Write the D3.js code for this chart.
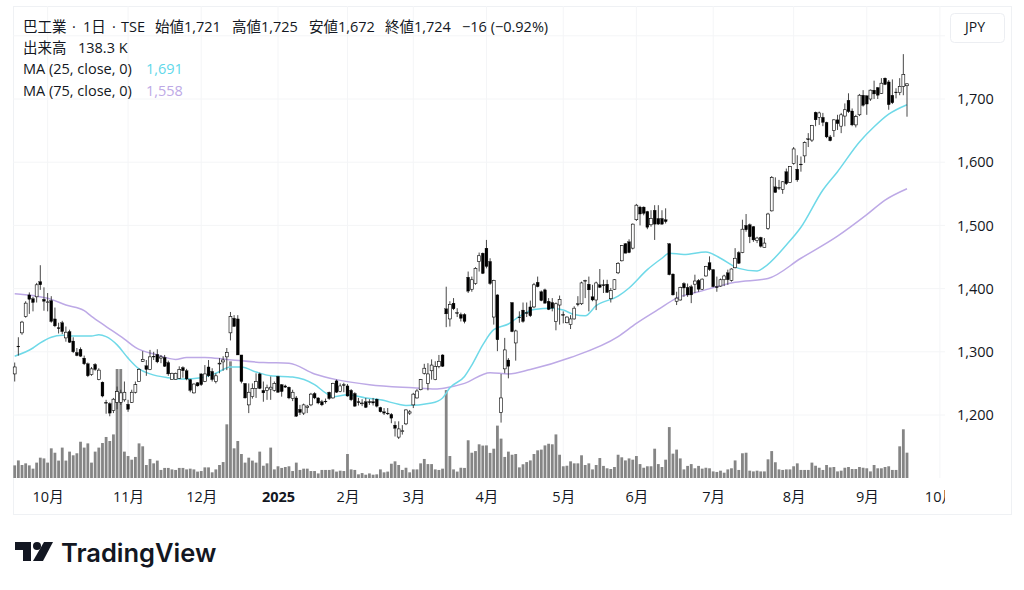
<!DOCTYPE html>
<html>
<head>
<meta charset="utf-8">
<script src="https://cdn.jsdelivr.net/npm/d3@7"></script>
<style>
  html, body { margin: 0; padding: 0; background: #fff; }
  svg { display: block; font-family: "Open Sans", "Noto Sans CJK JP", sans-serif; }
  .axis .domain, .axis line { display: none; }
  .axis text { fill: #131722; font-size: 14.5px; font-family: "Open Sans", "Noto Sans CJK JP", sans-serif; }
</style>
</head>
<body>
<script>
const opens = [
  1265,1309,1330,1356,1390,1384,1387,1411,1383,1378,
  1381,1352,1338,1346,1322,1332,1317,1299,1304,1290,
  1281,1264,1280,1256,1252,1220,1218,1207,1220,1220,
  1224,1217,1220,1236,1253,1285,1278,1272,1293,1296,
  1290,1291,1283,1256,1256,1258,1275,1270,1256,1235,
  1251,1265,1253,1276,1269,1253,1281,1284,1292,1330,
  1353,1352,1295,1250,1216,1229,1242,1265,1239,1239,
  1241,1239,1261,1248,1246,1244,1226,1227,1209,1203,
  1212,1216,1234,1227,1221,1222,1236,1227,1254,1237,
  1248,1246,1239,1234,1221,1218,1221,1221,1221,1225,
  1212,1205,1203,1201,1184,1165,1174,1186,1203,1216,
  1227,1240,1266,1250,1270,1256,1277,1295,1368,1352,
  1377,1362,1359,1359,1418,1399,1408,1443,1456,1464,
  1443,1355,1390,1204,1273,1287,1378,1314,1355,1366,
  1362,1371,1371,1410,1395,1398,1380,1378,1348,1374,
  1359,1346,1343,1352,1376,1376,1412,1407,1387,1382,
  1406,1406,1407,1384,1399,1425,1444,1471,1474,1464,
  1509,1529,1529,1522,1501,1524,1511,1511,1509,1471,
  1423,1380,1382,1408,1402,1403,1407,1413,1399,1420,
  1441,1430,1403,1404,1414,1425,1413,1433,1457,1457,
  1500,1501,1498,1476,1481,1465,1495,1523,1561,1560,
  1557,1585,1568,1598,1589,1597,1610,1637,1635,1679,
  1671,1671,1663,1640,1650,1667,1657,1673,1698,1681,
  1659,1675,1706,1705,1700,1714,1718,1709,1733,1727,
  1706,1711,1710,1720,1721
];
const highs = [
  1283,1323,1349,1380,1394,1387,1409,1437,1402,1393,
  1388,1370,1346,1349,1340,1335,1323,1306,1307,1294,
  1283,1276,1282,1274,1253,1224,1220,1227,1245,1240,
  1253,1224,1240,1253,1274,1301,1287,1303,1300,1304,
  1295,1295,1286,1267,1267,1277,1277,1273,1257,1250,
  1252,1266,1279,1287,1274,1266,1290,1293,1306,1363,
  1358,1358,1295,1250,1250,1250,1266,1267,1253,1248,
  1261,1253,1262,1249,1248,1245,1240,1230,1216,1218,
  1216,1235,1236,1228,1224,1226,1237,1251,1256,1250,
  1251,1249,1241,1236,1227,1225,1227,1225,1227,1226,
  1213,1211,1211,1203,1190,1190,1184,1209,1208,1235,
  1241,1257,1281,1282,1288,1285,1295,1296,1403,1380,
  1385,1369,1362,1361,1427,1419,1434,1457,1457,1477,
  1448,1414,1391,1265,1322,1290,1378,1335,1364,1378,
  1378,1381,1409,1419,1397,1400,1385,1385,1378,1389,
  1364,1356,1358,1372,1388,1411,1414,1419,1406,1411,
  1431,1414,1414,1401,1415,1442,1469,1472,1478,1503,
  1534,1531,1530,1523,1524,1532,1532,1524,1527,1472,
  1424,1395,1403,1410,1408,1406,1422,1415,1416,1436,
  1451,1431,1419,1416,1422,1430,1432,1464,1459,1509,
  1518,1503,1499,1482,1482,1480,1520,1578,1576,1572,
  1570,1590,1594,1624,1611,1609,1633,1646,1659,1680,
  1680,1678,1664,1643,1668,1675,1678,1693,1709,1685,
  1675,1708,1714,1706,1715,1729,1719,1733,1734,1730,
  1731,1717,1733,1771,1725
];
const lows = [
  1253,1294,1327,1354,1360,1364,1378,1398,1365,1364,
  1346,1339,1329,1328,1316,1314,1298,1293,1292,1279,
  1260,1262,1270,1255,1228,1202,1198,1203,1209,1216,
  1221,1205,1219,1234,1253,1284,1262,1271,1287,1282,
  1282,1276,1262,1256,1256,1257,1259,1255,1236,1234,
  1245,1246,1252,1260,1253,1250,1266,1270,1271,1318,
  1340,1295,1250,1226,1203,1226,1227,1241,1221,1224,
  1224,1237,1235,1229,1243,1225,1222,1197,1200,1200,
  1203,1214,1225,1217,1214,1218,1224,1226,1235,1236,
  1236,1229,1222,1213,1215,1214,1211,1216,1215,1212,
  1204,1200,1200,1187,1166,1162,1169,1184,1200,1211,
  1226,1239,1264,1239,1256,1255,1274,1276,1339,1340,
  1366,1355,1348,1345,1393,1395,1406,1427,1423,1432,
  1406,1343,1301,1188,1266,1258,1331,1286,1346,1346,
  1355,1355,1369,1402,1380,1376,1366,1364,1334,1343,
  1345,1345,1336,1351,1372,1374,1385,1364,1380,1366,
  1401,1393,1393,1378,1398,1423,1443,1456,1456,1462,
  1507,1500,1516,1494,1498,1477,1501,1501,1503,1421,
  1389,1374,1381,1387,1387,1377,1393,1395,1398,1419,
  1428,1402,1395,1403,1404,1406,1411,1432,1439,1456,
  1490,1472,1474,1472,1465,1465,1493,1522,1552,1556,
  1550,1564,1567,1596,1569,1585,1599,1624,1632,1657,
  1659,1657,1638,1633,1640,1651,1646,1657,1678,1657,
  1655,1673,1688,1675,1697,1700,1700,1708,1722,1683,
  1692,1701,1706,1706,1672
];
const closes = [
  1276,1308,1347,1377,1383,1378,1406,1406,1380,1379,
  1348,1341,1337,1332,1331,1315,1300,1294,1293,1281,
  1262,1273,1272,1271,1230,1219,1203,1225,1237,1235,
  1236,1209,1236,1248,1272,1288,1272,1292,1292,1284,
  1292,1277,1265,1266,1266,1272,1270,1257,1239,1249,
  1246,1248,1265,1262,1256,1262,1282,1287,1299,1356,
  1340,1295,1253,1227,1236,1242,1253,1242,1235,1243,
  1244,1250,1236,1237,1244,1227,1236,1198,1204,1216,
  1214,1233,1227,1219,1216,1221,1226,1250,1236,1246,
  1247,1230,1224,1214,1220,1219,1212,1220,1219,1214,
  1205,1203,1202,1195,1179,1178,1175,1208,1205,1233,
  1238,1256,1274,1265,1279,1277,1285,1277,1360,1375,
  1368,1361,1353,1348,1396,1414,1432,1452,1424,1435,
  1408,1413,1319,1227,1303,1277,1332,1333,1354,1348,
  1361,1357,1406,1403,1381,1377,1367,1369,1376,1383,
  1358,1355,1352,1369,1375,1409,1413,1398,1382,1409,
  1402,1405,1394,1397,1414,1440,1468,1456,1457,1502,
  1532,1518,1519,1497,1511,1502,1502,1502,1506,1422,
  1390,1385,1402,1401,1390,1390,1412,1399,1415,1435,
  1430,1403,1402,1414,1420,1414,1431,1448,1440,1494,
  1493,1482,1477,1480,1467,1472,1518,1576,1552,1559,
  1569,1566,1593,1621,1572,1596,1631,1636,1658,1667,
  1678,1663,1640,1634,1667,1661,1675,1683,1680,1659,
  1672,1706,1690,1692,1714,1708,1706,1725,1723,1691,
  1694,1710,1720,1739,1724
];
// thousands of shares
const volumes = [
  69,96,71,80,69,51,84,111,107,84,
  162,138,95,166,95,144,124,135,198,166,
  189,84,144,166,191,224,202,238,595,595,
  144,120,100,115,189,173,71,104,80,95,
  44,55,55,47,44,55,55,47,51,47,
  35,38,58,58,31,47,71,87,293,637,
  162,202,131,84,111,95,84,144,67,80,
  166,47,64,55,60,64,38,84,44,51,
  51,38,38,25,44,44,44,47,35,40,
  38,131,47,44,20,27,18,25,18,20,
  47,31,35,78,91,71,44,56,31,47,
  47,80,104,76,76,47,44,51,480,120,
  47,35,56,55,206,138,147,184,177,178,
  137,160,286,215,115,144,127,131,58,75,
  87,96,131,151,155,178,187,184,238,127,
  64,67,91,80,80,124,71,80,47,71,
  109,66,53,49,60,127,113,96,107,100,
  120,76,56,64,64,160,76,60,100,278,
  133,155,107,47,66,76,53,66,51,56,
  53,36,33,40,29,47,53,96,44,135,
  138,40,36,40,36,36,102,147,86,47,
  44,47,47,64,80,44,44,44,84,67,
  56,44,71,58,60,36,40,56,60,49,
  49,60,56,53,36,71,53,53,60,64,
  44,44,173,266,138.3
];

const ma25Bars = [0,5,7,10,13,16,21,23,25,28,31,34,37,42,46,51,55,59,62,66,70,76,82,85,87,91,96,100,105,107,114,117,119,123,125,128,131,135,138,142,147,150,153,156,159,165,168,173,177,179,183,189,193,198,203,205,211,215,221,225,231,235,239,244];
const ma25Values = [1293,1306,1314,1323,1326,1325,1325,1327,1324,1311,1290,1273,1265,1259,1257,1259,1266,1276,1276,1268,1262,1260,1248,1235,1229,1232,1227,1224,1217,1215,1219,1227,1243,1261,1279,1311,1335,1344,1356,1367,1369,1366,1359,1357,1373,1388,1401,1430,1448,1456,1454,1458,1448,1432,1428,1434,1469,1497,1556,1585,1632,1656,1676,1691];
const ma75Bars = [0,5,10,14,19,21,25,30,33,39,44,47,52,58,68,75,82,88,97,109,115,118,123,130,135,141,152,165,170,176,181,187,197,206,215,225,233,238,244];
const ma75Values = [1392,1389,1383,1374,1365,1356,1340,1320,1307,1295,1288,1291,1291,1288,1283,1282,1265,1256,1248,1243,1241,1243,1250,1267,1265,1272,1291,1324,1345,1367,1385,1395,1410,1416,1448,1483,1517,1540,1558];

const priceTicks = [1200,1300,1400,1500,1600,1700];
const priceGrid = [1200,1300,1400,1500,1600,1700,1800];
const monthBars = [9,31,51,72,91,109,129,150,170,191,213,233,253];
const monthLabels = ['10月','11月','12月','2025','2月','3月','4月','5月','6月','7月','8月','9月','10月'];

const headerTexts = ['巴工業','·','1日','·','TSE','始値1,721','高値1,725','安値1,672','終値1,724','−16 (−0.92%)'];
const headerX = [23,72,83,112,121,155,232,309,385,462];

const width = 1024, height = 590;
const plotLeft = 13, plotRight = 945, plotTop = 6, plotBottom = 478, frameRight = 1011, frameBottom = 514;
const bodyWidth = 2.9;
const ink = '#131722', upFill = '#ffffff', wickColor = '#333', volColor = '#858585';
const ma25Color = '#6fd9e8', ma75Color = '#bda9e6';

const svg = d3.select('body')
    .append('svg')
    .attr('width', width)
    .attr('height', height);

const x = d3.scaleLinear().domain([0, 244]).range([14.7, 907]);
const y = d3.scaleLinear().domain([1200, 1700]).range([415, 99]);
const yVol = d3.scaleLinear().domain([0, 546]).range([plotBottom, plotBottom - 100]);

svg.append('defs').append('clipPath').attr('id', 'plot-clip')
    .append('rect')
    .attr('x', plotLeft).attr('y', plotTop)
    .attr('width', plotRight - plotLeft).attr('height', frameBottom - plotTop);

// frame
svg.append('rect')
    .attr('x', plotLeft + 0.5).attr('y', plotTop + 0.5)
    .attr('width', frameRight - plotLeft).attr('height', frameBottom - plotTop)
    .attr('fill', 'none')
    .attr('stroke', '#eff1f4');

// grid
svg.append('g').selectAll('line')
    .data(priceGrid)
    .enter().append('line')
    .attr('x1', plotLeft).attr('x2', plotRight)
    .attr('y1', d => y(d)).attr('y2', d => y(d))
    .attr('stroke', '#f4f5f7');

svg.append('g').selectAll('line')
    .data(monthBars)
    .enter().append('line')
    .attr('x1', d => x(d)).attr('x2', d => x(d))
    .attr('y1', plotTop).attr('y2', plotBottom)
    .attr('stroke', '#f4f5f7');

// volume
svg.append('g').selectAll('rect')
    .data(volumes)
    .enter().append('rect')
    .attr('x', (d, i) => x(i) - 1.4)
    .attr('y', d => yVol(d))
    .attr('width', 2.8)
    .attr('height', d => yVol(0) - yVol(d))
    .attr('fill', volColor);

// moving averages
const maLine = d3.line()
    .x(d => x(d[0]))
    .y(d => y(d[1]))
    .curve(d3.curveMonotoneX);

svg.append('path')
    .datum(d3.zip(ma75Bars, ma75Values))
    .attr('d', maLine)
    .attr('fill', 'none')
    .attr('stroke', ma75Color)
    .attr('stroke-width', 1.5);

svg.append('path')
    .datum(d3.zip(ma25Bars, ma25Values))
    .attr('d', maLine)
    .attr('fill', 'none')
    .attr('stroke', ma25Color)
    .attr('stroke-width', 1.5);

// candles
const candles = svg.append('g').selectAll('g')
    .data(opens.map((o, i) => i))
    .enter().append('g');

candles.append('line')
    .attr('x1', i => x(i)).attr('x2', i => x(i))
    .attr('y1', i => y(highs[i])).attr('y2', i => y(lows[i]))
    .attr('stroke', wickColor)
    .attr('stroke-width', 0.9);

candles.append('rect')
    .attr('x', i => x(i) - bodyWidth / 2)
    .attr('y', i => y(Math.max(opens[i], closes[i])))
    .attr('width', bodyWidth)
    .attr('height', i => Math.max(0.8, Math.abs(y(opens[i]) - y(closes[i]))))
    .attr('fill', i => closes[i] >= opens[i] ? upFill : '#000')
    .attr('stroke', '#000')
    .attr('stroke-width', i => closes[i] >= opens[i] ? 0.6 : 0.3);

// axes
const priceAxis = d3.axisRight(y)
    .tickValues(priceTicks)
    .tickFormat(d3.format(','))
    .tickSize(0)
    .tickPadding(12);

svg.append('g')
    .attr('class', 'axis')
    .attr('transform', 'translate(' + plotRight + ',0)')
    .call(priceAxis);

const monthAxis = d3.axisBottom(x)
    .tickValues(monthBars)
    .tickFormat((d, i) => monthLabels[i])
    .tickSize(0)
    .tickPadding(14);

// 10月 at the far right is cut off by the edge of the plot, as in the original
svg.append('g')
    .attr('clip-path', 'url(#plot-clip)')
    .append('g')
    .attr('class', 'axis')
    .attr('transform', 'translate(0,' + plotBottom + ')')
    .call(monthAxis)
    .selectAll('text')
    .style('font-weight', (d, i) => monthLabels[i] === '2025' ? 700 : 400);

// legend
const legend = svg.append('g')
    .attr('font-size', 14.5)
    .attr('fill', ink);

legend.selectAll('text.head')
    .data(headerTexts)
    .enter().append('text')
    .attr('class', 'head')
    .attr('x', (d, i) => headerX[i])
    .attr('y', 32)
    .text(d => d);

legend.append('text').attr('x', 23).attr('y', 53).text('出来高');
legend.append('text').attr('x', 78).attr('y', 53).text('138.3 K');
legend.append('text').attr('x', 23).attr('y', 74).text('MA (25, close, 0)');
legend.append('text').attr('x', 146).attr('y', 74).attr('fill', '#5fd8ea').text('1,691');
legend.append('text').attr('x', 23).attr('y', 96).text('MA (75, close, 0)');
legend.append('text').attr('x', 146).attr('y', 96).attr('fill', '#bda9e6').text('1,558');

// currency button
svg.append('rect')
    .attr('x', 950.5).attr('y', 13.5)
    .attr('width', 54).attr('height', 29)
    .attr('rx', 4)
    .attr('fill', '#fff')
    .attr('stroke', '#eceef2');

svg.append('text')
    .attr('x', 975).attr('y', 32)
    .attr('text-anchor', 'middle')
    .attr('font-size', 14)
    .attr('fill', ink)
    .text('JPY');

// logo
const logo = svg.append('g').attr('fill', '#131722');
logo.append('path').attr('d', 'M15 542H31V561H23V550H15Z');
logo.append('circle').attr('cx', 37).attr('cy', 546).attr('r', 4);
logo.append('path').attr('d', 'M44 542H53L43 561H33Z');

svg.append('text')
    .attr('x', 61).attr('y', 562)
    .attr('font-family', 'Inter, sans-serif')
    .attr('font-size', 25.5)
    .attr('font-weight', 600)
    .attr('fill', '#131722')
    .text('TradingView');
</script>
</body>
</html>
